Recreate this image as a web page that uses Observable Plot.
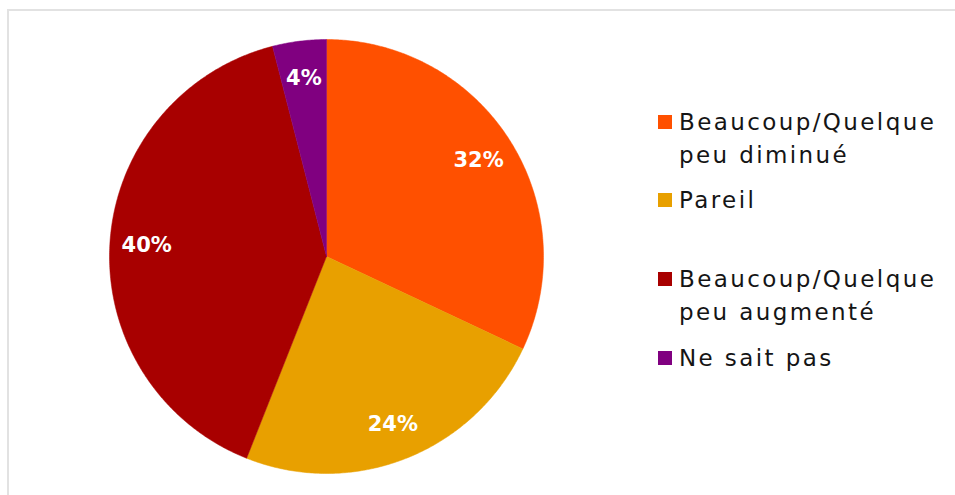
<!DOCTYPE html>
<html>
<head>
<meta charset="utf-8">
<script src="https://cdn.jsdelivr.net/npm/d3@7"></script>
<script src="https://cdn.jsdelivr.net/npm/@observablehq/plot@0.6"></script>
<style>
  html, body { margin: 0; padding: 0; background: #fff; overflow: hidden; width: 955px; height: 495px; }
  #frame { position: absolute; left: 7px; top: 9px; width: 1000px; height: 1000px; border: 2px solid #e2e2e2; }
  #chart { position: absolute; left: 0; top: 0; }
  .sw { position: absolute; width: 14px; height: 14px; left: 658px; }
  .lg { position: absolute; left: 679px; font-family: "DejaVu Sans", sans-serif; font-size: 23px; line-height: 33px; letter-spacing: 2.4px; color: #151515; white-space: pre; }
</style>
</head>
<body>
<div id="frame"></div>
<div id="chart"></div>
<div id="legend"></div>
<script>
const categories = ["Beaucoup/Quelque peu diminué", "Pareil", "Beaucoup/Quelque peu augmenté", "Ne sait pas"];
const legendLabels = ["Beaucoup/Quelque\npeu diminué", "Pareil", "Beaucoup/Quelque\npeu augmenté", "Ne sait pas"];
const values = [32, 24, 40, 4];
const colors = ["#FF5000", "#E8A000", "#A80000", "#800080"];

const pie = d3.pie().sort(null).value(d => d.value)(categories.map((c, i) => ({cat: c, value: values[i]})));

// outline points of each slice (computed from the pie angles)
const pts = [];
pie.forEach(s => {
  pts.push({cat: s.data.cat, x: 0, y: 0});
  const n = Math.max(2, Math.ceil((s.endAngle - s.startAngle) / (Math.PI / 360)));
  for (let k = 0; k <= n; k++) {
    const a = s.startAngle + (s.endAngle - s.startAngle) * k / n;
    pts.push({cat: s.data.cat, x: Math.sin(a), y: Math.cos(a)});
  }
  pts.push({cat: s.data.cat, x: 0, y: 0});
});
const labels = pie.map(s => {
  const a = (s.startAngle + s.endAngle) / 2;
  return {cat: s.data.cat, x: 0.83 * Math.sin(a), y: 0.83 * Math.cos(a), text: s.data.value + "%"};
});

const plot = Plot.plot({
  width: 955,
  height: 495,
  marginLeft: 109,
  marginRight: 412,
  marginTop: 39,
  marginBottom: 22,
  x: {domain: [-1, 1], axis: null},
  y: {domain: [-1, 1], axis: null},
  color: {domain: categories, range: colors},
  style: {background: "transparent", overflow: "visible"},
  marks: [
    Plot.line(pts, {x: "x", y: "y", z: "cat", fill: "cat", stroke: "cat", strokeWidth: 0.5, curve: "linear"}),
    Plot.text(labels, {x: "x", y: "y", text: "text", fill: "white", fontSize: 21, fontWeight: "bold", fontFamily: "DejaVu Sans, sans-serif"})
  ]
});
document.getElementById("chart").appendChild(plot);

const legendTops = [106, 184, 263, 342];
const lg = document.getElementById("legend");
legendLabels.forEach((t, i) => {
  const sw = document.createElement("div");
  sw.className = "sw";
  sw.style.top = (legendTops[i] + 9) + "px";
  sw.style.background = colors[i];
  lg.appendChild(sw);
  const tx = document.createElement("div");
  tx.className = "lg";
  tx.style.top = legendTops[i] + "px";
  tx.textContent = t;
  lg.appendChild(tx);
});
</script>
</body>
</html>
